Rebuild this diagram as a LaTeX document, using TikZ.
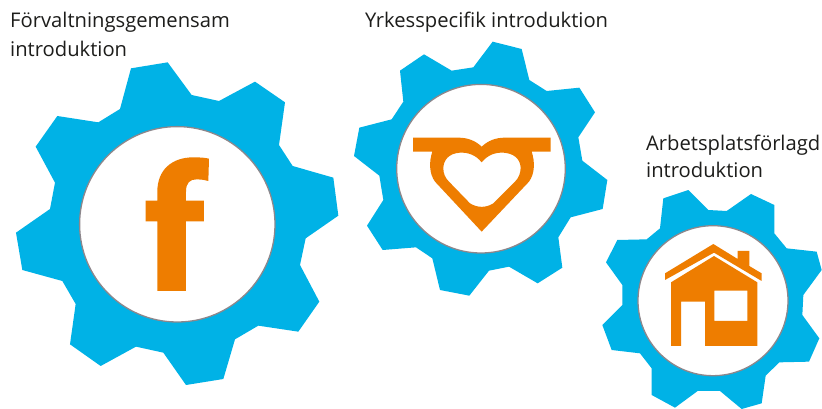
\documentclass[tikz,border=0pt]{standalone}
\usepackage{fontspec}
\setmainfont{Open Sans}
\definecolor{gearblue}{HTML}{00B2E6}
\definecolor{iconorange}{HTML}{EE7D00}
\definecolor{ringgrey}{HTML}{8C878C}
\definecolor{labeltext}{HTML}{1D1D1B}
\tikzset{
  gearshape/.style={fill=gearblue,draw=none},
  iconshape/.style={fill=iconorange,draw=none},
  hubdisc/.style={circle,fill=white,draw=ringgrey,line width=1.3pt,inner sep=0pt,minimum size=#1},
  labeltxt/.style={anchor=base west,inner sep=0pt,text=labeltext,font=\fontsize{20.2}{24}\selectfont},
  zoomed/.style={x=0.33333pt,y=-0.33333pt}
}
\begin{document}
\begin{tikzpicture}[x=1pt,y=-1pt]
\useasboundingbox (0,0) rectangle (822,409);
\fill[white] (0,0) rectangle (822,409);
% gear 1
\begin{scope}[shift={(0,50)},zoomed]
\fill[gearshape] (393,55)--(503,37)--(575,135)--(657,153)--(765,95)--(855,157)--(837,285)--(878,348)--(1000,383)--(1015,497)--(917,565)--(900,645)--(958,755)--(895,845)--(775,827)--(705,868)--(670,987)--(558,1005)--(490,908)--(408,890)--(302,948)--(210,883)--(227,762)--(187,693)--(67,660)--(48,548)--(150,477)--(165,398)--(107,290)--(172,198)--(295,217)--(360,177)--cycle;
\end{scope}
\node[hubdisc=195.4pt] (hubA) at (177.3,224.3) {};
\begin{scope}[shift={(0,50)},zoomed]
\fill[iconshape] (472,723)--(472,514)--(437,514)--(437,452)--(472,452)--(472,425) .. controls (472,360) and (515,322) .. (580,322) .. controls (600,322) and (615,323) .. (627,326)--(625,393) .. controls (610,389) and (600,388) .. (590,388) .. controls (570,388) and (558,398) .. (558,425)--(558,452)--(612,452)--(612,514)--(558,514)--(558,723)--cycle;
\end{scope}
% gear 2
\begin{scope}[shift={(345,30)},zoomed]
\fill[gearshape] (443,35)--(530,57)--(553,150)--(605,183)--(703,173)--(750,247)--(700,322)--(712,392)--(787,450)--(773,537)--(677,562)--(640,622)--(652,713)--(578,760)--(492,710)--(432,722)--(373,797)--(285,780)--(262,685)--(213,652)--(113,660)--(66,587)--(115,510)--(103,437)--(27,378)--(43,293)--(140,268)--(175,215)--(165,122)--(237,73)--(320,122)--(385,112)--cycle;
\end{scope}
\node[hubdisc=168.6pt] (hubB) at (481,168.7) {};
\begin{scope}[shift={(345,30)},zoomed]
\fill[iconshape,even odd rule] (204,323)--(340,323) .. controls (370,323) and (392,333) .. (410,350) .. controls (428,333) and (450,323) .. (480,323)--(617,323)--(617,365)--(560,365) .. controls (570,395) and (570,430) .. (552,455)--(410,605)--(270,455) .. controls (252,430) and (252,395) .. (262,365)--(204,365)--cycle
(410,397) .. controls (392,375) and (370,367) .. (345,368) .. controls (312,370) and (295,390) .. (295,415) .. controls (295,430) and (300,443) .. (312,455)--(375,520) .. controls (397,534) and (423,534) .. (445,520)--(510,455) .. controls (522,443) and (527,428) .. (527,412) .. controls (525,385) and (505,370) .. (475,368) .. controls (450,367) and (428,375) .. (410,397)--cycle;
\end{scope}
% gear 3
\begin{scope}[shift={(595,180)},zoomed]
\fill[gearshape] (280,30)--(340,90)--(395,93)--(468,42)--(538,75)--(538,160)--(575,205)--(665,215)--(680,270)--(625,345)--(622,405)--(673,475)--(642,545)--(553,547)--(512,587)--(500,670)--(440,687)--(375,633)--(308,633)--(240,683)--(170,645)--(170,565)--(135,520)--(50,510)--(22,435)--(82,375)--(82,315)--(33,247)--(67,180)--(155,178)--(195,145)--(205,55)--cycle;
\end{scope}
\node[hubdisc=150pt] (hubC) at (713,300.7) {};
\begin{scope}[shift={(595,180)},zoomed]
\fill[iconshape] (210,280)--(355,192)--(428,237)--(428,213)--(463,213)--(463,258)--(500,280)--(500,303)--(357,218)--(210,300)--cycle;
\fill[iconshape,even odd rule] (228,498)--(228,307)--(357,228)--(487,307)--(487,498)--(330,498)--(330,365)--(258,365)--(258,498)--cycle (358,332) rectangle (457,423);
\end{scope}
% labels
\node[labeltxt] (labA1) at (10,28) {Förvaltningsgemensam};
\node[labeltxt] (labA2) at (10,57) {introduktion};
\node[labeltxt] (labB) at (365,28) {Yrkesspecifik introduktion};
\node[labeltxt] (labC1) at (646,150) {Arbetsplatsförlagd};
\node[labeltxt] (labC2) at (646,178) {introduktion};
\end{tikzpicture}
\end{document}
